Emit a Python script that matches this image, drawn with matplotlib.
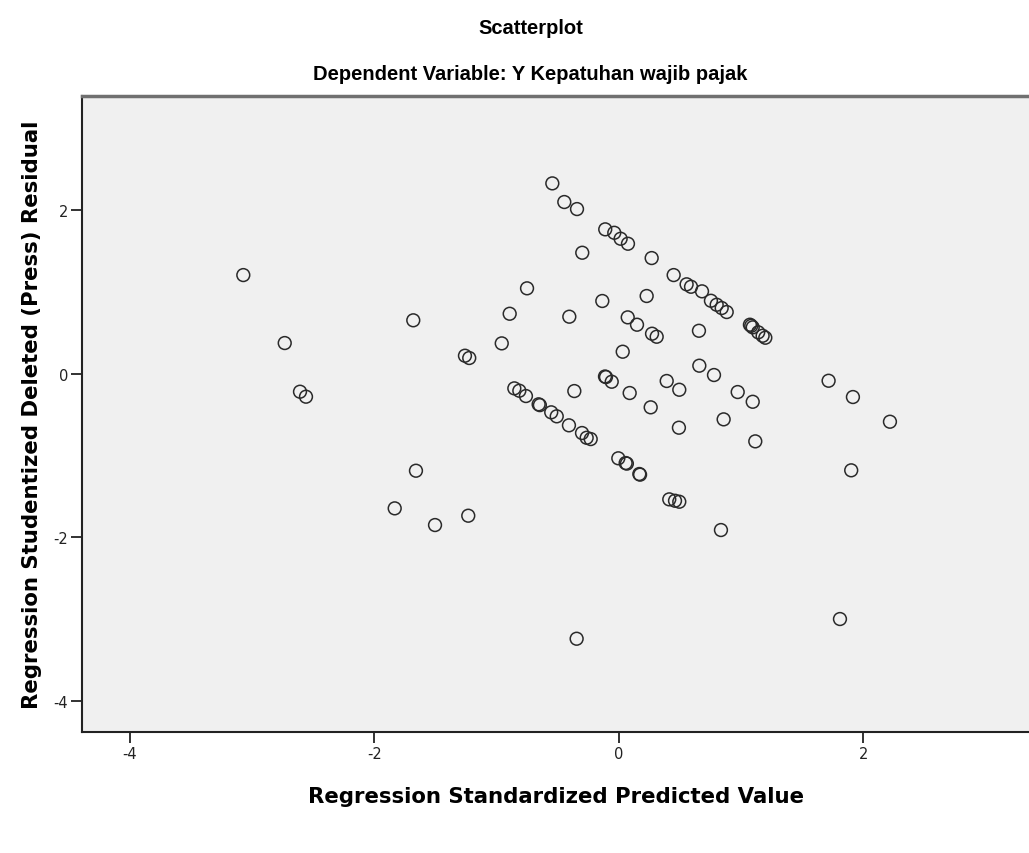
import matplotlib
matplotlib.use('Agg')
from matplotlib import pyplot as plt
from matplotlib import font_manager

plt.rcParams['axes.unicode_minus'] = False

# standardized predicted value vs studentized deleted residual
pred = [-3.072, -2.733, -2.608, -2.559, -1.681, -1.659, -1.833, -1.503, -1.231,
        -1.258, -1.223, -0.957, -0.892, -0.750, -0.543, -0.445, -0.341, -0.298,
        -0.110, -0.036, 0.016, 0.076, 0.270, 0.450, 0.556, 0.592, 0.682, 0.755,
        0.802, 0.843, 0.884, 1.074, 1.097, 1.142, 1.178, 1.200, -0.404, -0.134,
        0.229, 0.074, 0.150, 0.273, 0.311, 0.657, 0.033, 0.660, 0.780, 0.974,
        1.097, 0.859, 1.118, -0.104, -0.057, -0.363, 0.090, 0.393, 0.496, 0.262,
        0.493, -0.854, -0.813, -0.759, -0.655, -0.645, -0.552, -0.507, -0.407,
        -0.300, -0.262, -0.229, -0.003, 0.057, 0.067, 0.169, 0.175, 0.414, 0.461,
        0.496, 0.837, -0.344, 1.718, 1.917, 2.220, 1.903, 1.811, -0.112, 1.085]
resid = [1.205, 0.374, -0.221, -0.282, 0.652, -1.187, -1.647, -1.851, -1.737,
         0.219, 0.191, 0.370, 0.732, 1.043, 2.326, 2.098, 2.012, 1.478,
         1.764, 1.722, 1.649, 1.588, 1.413, 1.205, 1.092, 1.062, 1.006, 0.891,
         0.842, 0.802, 0.753, 0.598, 0.566, 0.505, 0.463, 0.439, 0.696, 0.888,
         0.949, 0.688, 0.598, 0.488, 0.451, 0.524, 0.268, 0.097, -0.017, -0.225,
         -0.344, -0.559, -0.828, -0.042, -0.099, -0.213, -0.237, -0.090, -0.197, -0.412,
         -0.661, -0.180, -0.209, -0.274, -0.375, -0.385, -0.473, -0.522, -0.632,
         -0.726, -0.784, -0.800, -1.035, -1.093, -1.100, -1.227, -1.235, -1.537, -1.554,
         -1.566, -1.912, -3.241, -0.087, -0.286, -0.588, -1.182, -3.000, -0.035, 0.585]

x_ticks = [-4, -2, 0, 2]
y_ticks = [-4, -2, 0, 2]

names = {f.name for f in font_manager.fontManager.ttflist}
title_font = 'Liberation Sans Narrow' if 'Liberation Sans Narrow' in names else 'Liberation Sans'

fig = plt.figure(figsize=(10.29, 8.54), dpi=100)
ax = fig.add_axes([0.0797, 0.1417, 0.9203, 0.7447])
ax.set_facecolor('#f0f0f0')

ax.scatter(pred, resid, s=85, facecolors='none', edgecolors='#2a2a2a', linewidths=1.1)

ax.set_xlim(-4.392, 3.358)
ax.set_ylim(-4.381, 3.394)
ax.set_xticks(x_ticks)
ax.set_yticks(y_ticks)
ax.tick_params(length=8, width=1.3, color='#222222', labelsize=10.5, pad=2,
               labelcolor='#222222')

for s in ['left', 'bottom']:
    ax.spines[s].set_linewidth(1.5)
    ax.spines[s].set_color('#222222')
ax.spines['top'].set_color('#707070')
ax.spines['top'].set_linewidth(2.5)
ax.spines['right'].set_visible(False)

ax.set_xlabel('Regression Standardized Predicted Value', fontsize=15.3,
              fontweight='bold', family='DejaVu Sans', labelpad=18)
ax.set_ylabel('Regression Studentized Deleted (Press) Residual', fontsize=15.3,
              fontweight='bold', family='DejaVu Sans', labelpad=8)

fig.text(0.5155, 0.967, 'Scatterplot', ha='center', va='center', fontsize=14.5,
         fontweight='bold', family=title_font)
fig.text(0.5155, 0.913, 'Dependent Variable: Y Kepatuhan wajib pajak', ha='center',
         va='center', fontsize=14.5, fontweight='bold', family=title_font)

fig.savefig('out.png', dpi=100)
plt.close(fig)
